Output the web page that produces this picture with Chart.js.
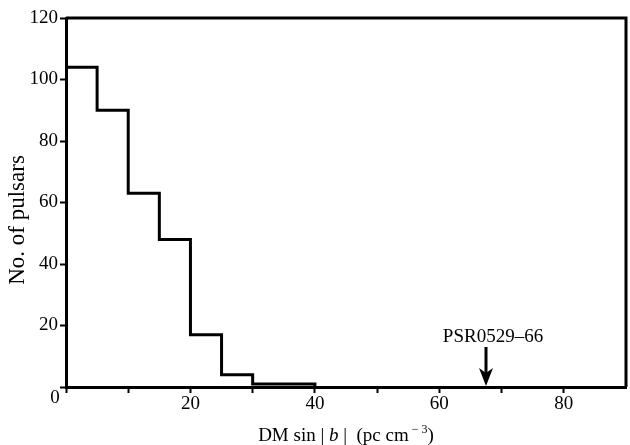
<!DOCTYPE html>
<html>
<head>
<meta charset="utf-8">
<script src="https://cdn.jsdelivr.net/npm/chart.js@4.4.1/dist/chart.umd.min.js"></script>
<style>
  html, body { margin: 0; padding: 0; background: #fff; }
  #wrap { width: 630px; height: 445px; }
</style>
</head>
<body>
<div id="wrap"><canvas id="histChart" width="630" height="445"></canvas></div>
<script>
// Histogram bins (DM sin|b|, pc cm^-3) and counts
const binEdges = [0, 5, 10, 15, 20, 25, 30, 35, 40];
const binCounts = [104, 90, 63, 48, 17, 4, 1, 1];
const xTickLabels = [0, 20, 40, 60, 80];
const yTickLabels = [0, 20, 40, 60, 80, 100, 120];
// Marked pulsar
const markerName = 'PSR0529\u201366';
const markerDM = 67.5;

const serif = '"Liberation Serif", "DejaVu Serif", serif';

// Build step outline points: start at baseline, one point per bin, drop to baseline at the end
const stepPoints = [{ x: binEdges[0], y: 0 }];
binCounts.forEach((c, i) => stepPoints.push({ x: binEdges[i], y: c }));
stepPoints.push({ x: binEdges[binEdges.length - 1], y: 0 });

// Frame, arrow marker and axis titles
const extras = {
    id: 'extras',
    afterDraw(chart) {
        const ctx = chart.ctx;
        const a = chart.chartArea;
        const xs = chart.scales.x;
        const ys = chart.scales.y;
        ctx.save();
        ctx.strokeStyle = '#000';
        ctx.lineWidth = 3;
        ctx.beginPath();
        ctx.moveTo(a.left, a.top);
        ctx.lineTo(a.right, a.top);
        ctx.lineTo(a.right, a.bottom);
        ctx.stroke();

        // arrow pointing down to the axis
        const px = xs.getPixelForValue(markerDM);
        const py = ys.getPixelForValue(0);
        ctx.lineWidth = 3;
        ctx.beginPath();
        ctx.moveTo(px, py - 40);
        ctx.lineTo(px, py - 10);
        ctx.stroke();
        ctx.fillStyle = '#000';
        ctx.beginPath();
        ctx.moveTo(px - 7, py - 19);
        ctx.lineTo(px, py - 14);
        ctx.lineTo(px + 7, py - 19);
        ctx.lineTo(px, py - 1);
        ctx.closePath();
        ctx.fill();

        ctx.font = '19px ' + serif;
        ctx.textAlign = 'center';
        ctx.textBaseline = 'alphabetic';
        ctx.fillText(markerName, px + 7, py - 45);

        // x title with italic b and superscript
        const parts = [
            { t: 'DM sin | ', f: '19px ' + serif, dy: 0 },
            { t: 'b', f: 'italic 19px ' + serif, dy: 0 },
            { t: ' |  (pc cm', f: '19px ' + serif, dy: 0 },
            { t: ' \u2212 3', f: '12px ' + serif, dy: -8 },
            { t: ')', f: '19px ' + serif, dy: 0 }
        ];
        let total = 0;
        parts.forEach(p => { ctx.font = p.f; p.w = ctx.measureText(p.t).width; total += p.w; });
        let x = (a.left + a.right) / 2 - total / 2;
        const yb = 441;
        ctx.textAlign = 'left';
        parts.forEach(p => { ctx.font = p.f; ctx.fillText(p.t, x, yb + p.dy); x += p.w; });

        // y title
        ctx.translate(18, 220);
        ctx.rotate(-Math.PI / 2);
        ctx.font = '23px ' + serif;
        ctx.textAlign = 'center';
        ctx.textBaseline = 'middle';
        ctx.fillText('No. of pulsars', 0, 0);
        ctx.restore();
    }
};

const ctx = document.getElementById('histChart').getContext('2d');
const histChart = new Chart(ctx, {
    type: 'line',
    data: {
        datasets: [{
            data: stepPoints,
            stepped: 'before',
            borderColor: '#000',
            borderWidth: 3,
            pointRadius: 0,
            fill: false
        }]
    },
    options: {
        responsive: false,
        animation: false,
        layout: { padding: { top: 18, right: 4, left: 0, bottom: 0 } },
        plugins: {
            legend: { display: false },
            tooltip: { enabled: false }
        },
        scales: {
            x: {
                type: 'linear',
                min: 0,
                max: 90,
                afterFit(scale) { scale.height = 58; },
                afterBuildTicks(scale) {
                    scale.ticks = [0, 10, 20, 30, 40, 50, 60, 70, 80].map(v => ({ value: v }));
                },
                ticks: {
                    color: '#000',
                    font: { family: serif, size: 19 },
                    padding: 0,
                    maxRotation: 0,
                    callback: v => (xTickLabels.includes(v) && v !== 0) ? String(v) : ''
                },
                grid: { drawOnChartArea: false, drawTicks: true, tickLength: 6, tickWidth: 2, tickColor: '#000' },
                border: { color: '#000', width: 3 }
            },
            y: {
                min: 0,
                max: 120,
                afterFit(scale) { scale.width = 66; },
                afterBuildTicks(scale) {
                    scale.ticks = yTickLabels.map(v => ({ value: v }));
                },
                ticks: {
                    color: '#000',
                    font: { family: serif, size: 19 },
                    padding: 2,
                    callback: v => v === 0 ? '' : String(v)
                },
                grid: { drawOnChartArea: false, drawTicks: true, tickLength: 6, tickWidth: 2, tickColor: '#000' },
                border: { color: '#000', width: 3 }
            }
        }
    },
    plugins: [extras, {
        id: 'zeroLabel',
        afterDraw(chart) {
            // shared origin label sits just below-left of the corner
            const c = chart.ctx;
            c.save();
            c.font = '19px ' + serif;
            c.fillStyle = '#000';
            c.textAlign = 'center';
            c.textBaseline = 'middle';
            c.fillText(String(yTickLabels[0]), chart.chartArea.left - 11, chart.chartArea.bottom + 11);
            c.restore();
        }
    }]
});
</script>
</body>
</html>
